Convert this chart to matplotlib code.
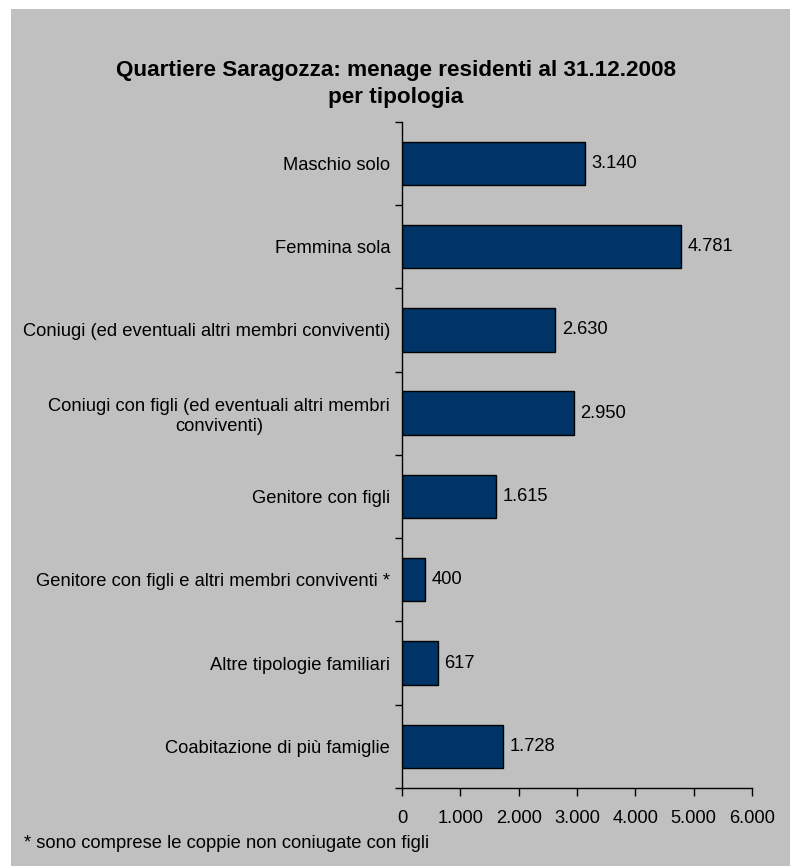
import matplotlib.pyplot as plt
import matplotlib.patches as mpatches
import numpy as np

plt.rcParams['font.family'] = ['Liberation Sans', 'DejaVu Sans']

categories = [
    "Maschio solo",
    "Femmina sola",
    "Coniugi (ed eventuali altri membri conviventi)",
    "Coniugi con figli (ed eventuali altri membri\nconviventi)",
    "Genitore con figli",
    "Genitore con figli e altri membri conviventi *",
    "Altre tipologie familiari",
    "Coabitazione di più famiglie",
]
values = [3140, 4781, 2630, 2950, 1615, 400, 617, 1728]
xticks = [0, 1000, 2000, 3000, 4000, 5000, 6000]

gray = "#C0C0C0"
bar_color = "#003366"
fs = 13.2


def fmt(v):
    return "{:,}".format(v).replace(",", ".")


fig = plt.figure(figsize=(7.9, 8.66), dpi=100)
fig.patch.set_facecolor("white")
# gray chart area (white margin at top and left)
fig.patches.append(mpatches.Rectangle((11 / 790, 0), 1, 1 - 9 / 866,
                                      transform=fig.transFigure,
                                      facecolor=gray, edgecolor="none", zorder=-1))

ax = fig.add_axes([402 / 790, 1 - 788 / 866, 350 / 790, (788 - 121.6) / 866])
ax.set_facecolor("none")

y = np.arange(len(categories))
ax.barh(y, values, height=0.52, color=bar_color, edgecolor="black", linewidth=1)

for yi, v in zip(y, values):
    ax.text(v + 110, yi, fmt(v), va="center", ha="left", fontsize=fs)

ax.set_ylim(len(categories) - 0.5, -0.5)
ax.set_xlim(0, 6000)

ax.set_yticks(y)
ax.set_yticklabels(categories, fontsize=fs, multialignment="center")
ax.set_yticks(np.arange(-0.5, len(categories)), minor=True)
ax.tick_params(axis="y", which="major", length=0, pad=8.5)
ax.tick_params(axis="y", which="minor", length=5, direction="out", width=1)

ax.set_xticks(xticks)
ax.set_xticklabels([fmt(t) for t in xticks], fontsize=fs)
ax.tick_params(axis="x", length=6, direction="out", width=1, pad=9.5)

for s in ["top", "right"]:
    ax.spines[s].set_visible(False)
for s in ["left", "bottom"]:
    ax.spines[s].set_linewidth(1)
    ax.spines[s].set_color("black")

fig.text(396 / 790, 1 - 84 / 866,
         "Quartiere Saragozza: menage residenti al 31.12.2008\nper tipologia",
         ha="center", va="center", fontsize=16.2, fontweight="bold", linespacing=1.32)

fig.text(24 / 790, 1 - 843 / 866, "* sono comprese le coppie non coniugate con figli",
         ha="left", va="center", fontsize=fs)

fig.savefig("out.png", dpi=100, facecolor=fig.get_facecolor())
